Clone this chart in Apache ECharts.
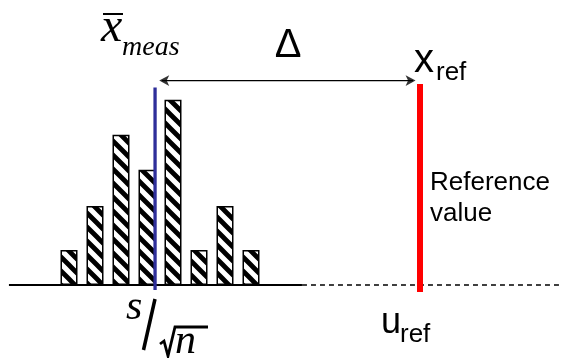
<!DOCTYPE html>
<html>
<head>
<meta charset="utf-8">
<script src="https://cdn.jsdelivr.net/npm/echarts@6/dist/echarts.min.js"></script>
<style>html,body{margin:0;padding:0;background:#fff}#c{width:568px;height:358px}</style>
</head>
<body>
<div id="c"></div>
<script>
// Histogram bins (bin index) and counts (relative heights)
const binCenters = [0, 1, 2, 3, 4, 5, 6, 7];
const counts = [1.0, 2.26, 4.29, 3.29, 5.29, 1.0, 2.26, 1.0];
// Mean of measurements and reference value (in bin units)
const meanX = 3.31;
const refX = 13.5;
// Extents of vertical markers
const meanLine = [-0.14, 5.64];
const refLine = [-0.2, 5.74];
// Baseline extents
const solidBase = [-2.31, 8.96];
const dashedBase = [8.96, 18.9];
// Difference arrow
const arrowY = 5.84;
const arrowSpan = [3.37, 13.43];
const headLen = 0.2;

function hatch() {
  const s = 14;
  const c = document.createElement('canvas');
  c.width = s; c.height = s;
  const g = c.getContext('2d');
  g.fillStyle = '#fff'; g.fillRect(0, 0, s, s);
  g.strokeStyle = '#000'; g.lineWidth = 4.8;
  g.beginPath();
  for (let k = -1; k <= 1; k++) {
    g.moveTo(k * s - 2, -2); g.lineTo(k * s + s + 2, s + 2);
  }
  g.stroke();
  return c;
}

const chart = echarts.init(document.getElementById('c'), null, {renderer: 'canvas'});
const serif = '"Liberation Serif", "Times New Roman", serif';
const sans = '"Liberation Sans", Arial, sans-serif';
// text placed by its baseline
function txt(text, x, base, size, family, style, align) {
  return {type: 'text', style: {text: text, x: x, y: base - 0.78 * size,
    font: (style || '') + ' ' + size + 'px ' + family, fill: '#000',
    textAlign: align || 'left', align: align || 'left', textVerticalAlign: 'top', verticalAlign: 'top'}};
}

chart.setOption({
  animation: false,
  grid: {left: 4, right: 5, top: 5, bottom: 3},
  xAxis: {type: 'value', min: -2.5, max: 19, show: false},
  yAxis: {type: 'value', min: -2, max: 8, show: false},
  series: [
    {
      type: 'bar', barWidth: 17,
      data: binCenters.map((x, i) => [x, counts[i]]),
      itemStyle: {color: {image: hatch(), repeat: 'repeat'}, borderColor: '#000', borderWidth: 1.5},
      z: 2
    },
    {type: 'line', data: [[solidBase[0], 0], [solidBase[1], 0]], symbol: 'none',
      lineStyle: {color: '#000', width: 2}, z: 3},
    {type: 'line', data: [[dashedBase[0], 0], [dashedBase[1], 0]], symbol: 'none',
      lineStyle: {color: '#000', width: 1.5, type: [5, 4]}, z: 3},
    {type: 'line', data: [[meanX, meanLine[0]], [meanX, meanLine[1]]], symbol: 'none',
      lineStyle: {color: '#2e2e9a', width: 3.3}, z: 4},
    {type: 'line', data: [[refX, refLine[0]], [refX, refLine[1]]], symbol: 'none',
      lineStyle: {color: '#ff0000', width: 6}, z: 4},
    {type: 'line', data: [[arrowSpan[0] + headLen, arrowY], [arrowSpan[1] - headLen, arrowY]], symbol: 'none',
      lineStyle: {color: '#000', width: 1.3}, z: 5},
    {type: 'scatter', z: 5, itemStyle: {color: '#000'},
      data: [
        {value: [arrowSpan[0] + headLen / 2, arrowY], symbol: 'arrow', symbolSize: [8, 10], symbolRotate: 90},
        {value: [arrowSpan[1] - headLen / 2, arrowY], symbol: 'arrow', symbolSize: [8, 10], symbolRotate: -90}
      ]}
  ],
  graphic: [
    txt('x', 101, 42, 48, serif, 'italic'),
    {type: 'line', shape: {x1: 103, y1: 14, x2: 123, y2: 14}, style: {stroke: '#000', lineWidth: 2}},
    txt('meas', 122, 55, 28, serif, 'italic'),
    txt('\u0394', 288, 57, 40, sans, '', 'center'),
    txt('x', 414, 72, 40, sans),
    txt('ref', 436, 80, 26, sans),
    txt('Reference', 430, 190, 26, sans),
    txt('value', 430, 221, 26, sans),
    txt('u', 381, 333, 36, sans),
    txt('ref', 400, 342, 26, sans),
    txt('s', 126, 320, 42, serif, 'italic'),
    {type: 'line', shape: {x1: 155, y1: 299, x2: 143.5, y2: 350}, style: {stroke: '#000', lineWidth: 3.5}},
    {type: 'polyline', shape: {points: [[160, 344], [164, 341], [168, 356], [175, 327], [208, 327]]},
      style: {stroke: '#000', lineWidth: 2.8, fill: null}},
    txt('n', 175, 354, 42, serif, 'italic')
  ]
});
</script>
</body>
</html>
